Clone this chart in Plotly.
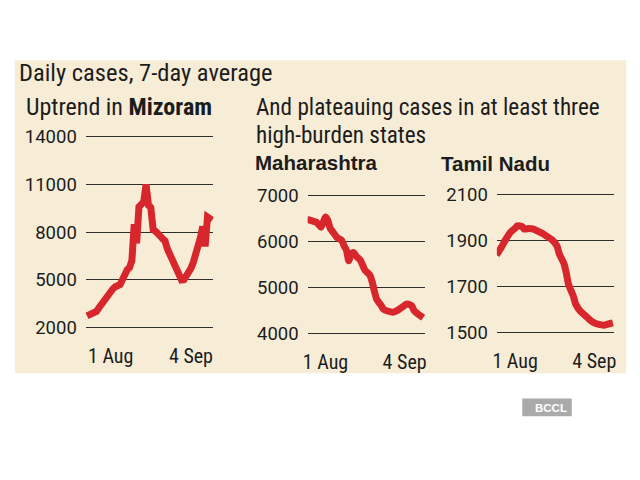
import pandas as pd
import plotly.graph_objects as go

# ---------------- data ----------------
miz_start = "2021-07-22"
miz_values = [2720, 2780, 2830, 2900, 3000, 3220, 3430, 3650, 3980, 4110,
              4250, 4430, 4560, 4630, 4700, 5000, 5350, 5620, 5760, 6200,
              8500, 7300, 9600, 9700, 9900, 11000, 9700, 9550, 8150, 8050,
              7940, 7750, 7580, 7450, 6950, 6600, 6270, 5980, 5600, 5300,
              4980, 5000, 5230, 5400, 5720, 6100, 6550, 7050, 7650, 8350,
              7100, 8950, 8900, 8750]
miz_dates = pd.date_range(miz_start, periods=len(miz_values), freq="D")

mah_dates = ["2021-07-24", "2021-07-26", "2021-07-28", "2021-07-29", "2021-07-30",
             "2021-07-31", "2021-08-01", "2021-08-02", "2021-08-03", "2021-08-05",
             "2021-08-06", "2021-08-08", "2021-08-09", "2021-08-10", "2021-08-11",
             "2021-08-12", "2021-08-13", "2021-08-14", "2021-08-16", "2021-08-17",
             "2021-08-18", "2021-08-20", "2021-08-21", "2021-08-22", "2021-08-23",
             "2021-08-25", "2021-08-26", "2021-08-28", "2021-08-30", "2021-09-01",
             "2021-09-03", "2021-09-05", "2021-09-07", "2021-09-08", "2021-09-10",
             "2021-09-12"]
mah_values = [6490, 6460, 6430, 6380, 6320, 6420, 6540, 6470, 6300, 6160,
              6090, 6030, 5910, 5820, 5590, 5740, 5770, 5700, 5600, 5490,
              5380, 5280, 5140, 4930, 4750, 4610, 4530, 4490, 4470, 4510,
              4580, 4650, 4610, 4510, 4420, 4350]

tn_dates = ["2021-07-24", "2021-07-26", "2021-07-28", "2021-07-30", "2021-08-01",
            "2021-08-02", "2021-08-04", "2021-08-05", "2021-08-07", "2021-08-09",
            "2021-08-11", "2021-08-13", "2021-08-15", "2021-08-17", "2021-08-19",
            "2021-08-20", "2021-08-22", "2021-08-23", "2021-08-24", "2021-08-26",
            "2021-08-27", "2021-08-29", "2021-08-31", "2021-09-02", "2021-09-04",
            "2021-09-06", "2021-09-08", "2021-09-10", "2021-09-12"]
tn_values = [1838, 1870, 1906, 1937, 1955, 1965, 1962, 1951, 1954, 1951,
             1941, 1931, 1917, 1903, 1877, 1842, 1800, 1758, 1708, 1659,
             1624, 1593, 1575, 1556, 1542, 1535, 1532, 1537, 1542]

x_tick_dates = ["2021-08-01", "2021-09-04"]
x_tick_text = ["1 Aug", "4 Sep"]
miz_yticks = [2000, 5000, 8000, 11000, 14000]
mah_yticks = [4000, 5000, 6000, 7000]
tn_yticks = [1500, 1700, 1900, 2100]

# ---------------- styling ----------------
W, H = 640, 480
RED = "#d8262d"
GRID = "#2e2e2e"
TXT = "#1c1c1c"
HEAD = "Liberation Sans Narrow, Arial Narrow, Roboto Condensed, sans-serif"
BOLDF = "Liberation Sans, Arial, sans-serif"
TICKF = "Roboto, Liberation Sans, Arial, sans-serif"


def px(x):
    return x / W


def py(y):
    return 1 - y / H


fig = go.Figure()

panels = [
    dict(x=miz_dates, y=miz_values, xa="x", ya="y", shape="linear"),
    dict(x=mah_dates, y=mah_values, xa="x2", ya="y2", shape="spline"),
    dict(x=tn_dates, y=tn_values, xa="x3", ya="y3", shape="spline"),
]
for p in panels:
    fig.add_trace(go.Scatter(
        x=p["x"], y=p["y"], xaxis=p["xa"], yaxis=p["ya"], mode="lines",
        line=dict(color=RED, width=7, shape=p["shape"], smoothing=0.6),
        hoverinfo="skip", showlegend=False))


def xaxis(domain, rng):
    return dict(domain=domain, range=rng, type="date", showgrid=False,
                zeroline=False, showline=False, ticks="",
                tickvals=x_tick_dates, ticktext=x_tick_text,
                tickfont=dict(family=HEAD, size=20, color=TXT),
                ticklabelstandoff=11, fixedrange=True)


def yaxis(domain, rng, ticks, anchor):
    return dict(domain=domain, range=rng, showgrid=True, gridcolor=GRID,
                gridwidth=1.4, zeroline=False, showline=False, ticks="",
                tickvals=ticks, tickformat="d", anchor=anchor,
                tickfont=dict(family=TICKF, size=18.5, color=TXT),
                ticklabelstandoff=8, fixedrange=True)


fig.update_layout(
    width=W, height=H, margin=dict(l=0, r=0, t=0, b=0),
    paper_bgcolor="white", plot_bgcolor="rgba(0,0,0,0)",
    xaxis=xaxis([px(81.7), px(210.7)], ["2021-07-21 12:00", "2021-09-13 12:00"]),
    yaxis=yaxis([py(334), py(130.7)], [1800, 14200], miz_yticks, "x"),
    xaxis2=xaxis([px(306), px(425)], ["2021-07-24 08:00", "2021-09-12 22:00"]) | dict(anchor="y2"),
    yaxis2=yaxis([py(340.6), py(191.7)], [3930, 7070], mah_yticks, "x2"),
    xaxis3=xaxis([px(497.3), px(616)], ["2021-07-24 04:00", "2021-09-12 14:00"]) | dict(anchor="y3"),
    yaxis3=yaxis([py(339.3), py(190.7)], [1486, 2114], tn_yticks, "x3"),
)

# paper background panel and source badge
fig.add_shape(type="rect", xref="paper", yref="paper",
              x0=px(10), x1=px(628), y0=py(378), y1=py(55),
              fillcolor="#f7edd7", line=dict(width=0), layer="below")
fig.add_shape(type="rect", xref="paper", yref="paper",
              x0=px(523), x1=px(573), y0=py(422.5), y1=py(404),
              fillcolor="#aaaaaa", line=dict(width=0), layer="above")


def note(text, x, y, size, family, color=TXT, xanchor="left"):
    fig.add_annotation(text=text, x=px(x), y=py(y), xref="paper", yref="paper",
                       xanchor=xanchor, yanchor="middle", showarrow=False,
                       font=dict(family=family, size=size, color=color))


note("Daily cases, 7-day average", 12, 68, 24.5, HEAD)
note("Uptrend in <b>Mizoram</b>", 19, 103, 24, HEAD)
note("And plateauing cases in at least three", 252, 103, 23.2, HEAD)
note("high-burden states", 252, 132, 23.2, HEAD)
note("<b>Maharashtra</b>", 251, 161, 20.5, BOLDF)
note("<b>Tamil Nadu</b>", 439, 162, 20.5, BOLDF)
note("<b>BCCL</b>", 552, 413.5, 11.5, "Liberation Sans, Arial, sans-serif",
     color="white", xanchor="center")

fig.write_html("out.html")
